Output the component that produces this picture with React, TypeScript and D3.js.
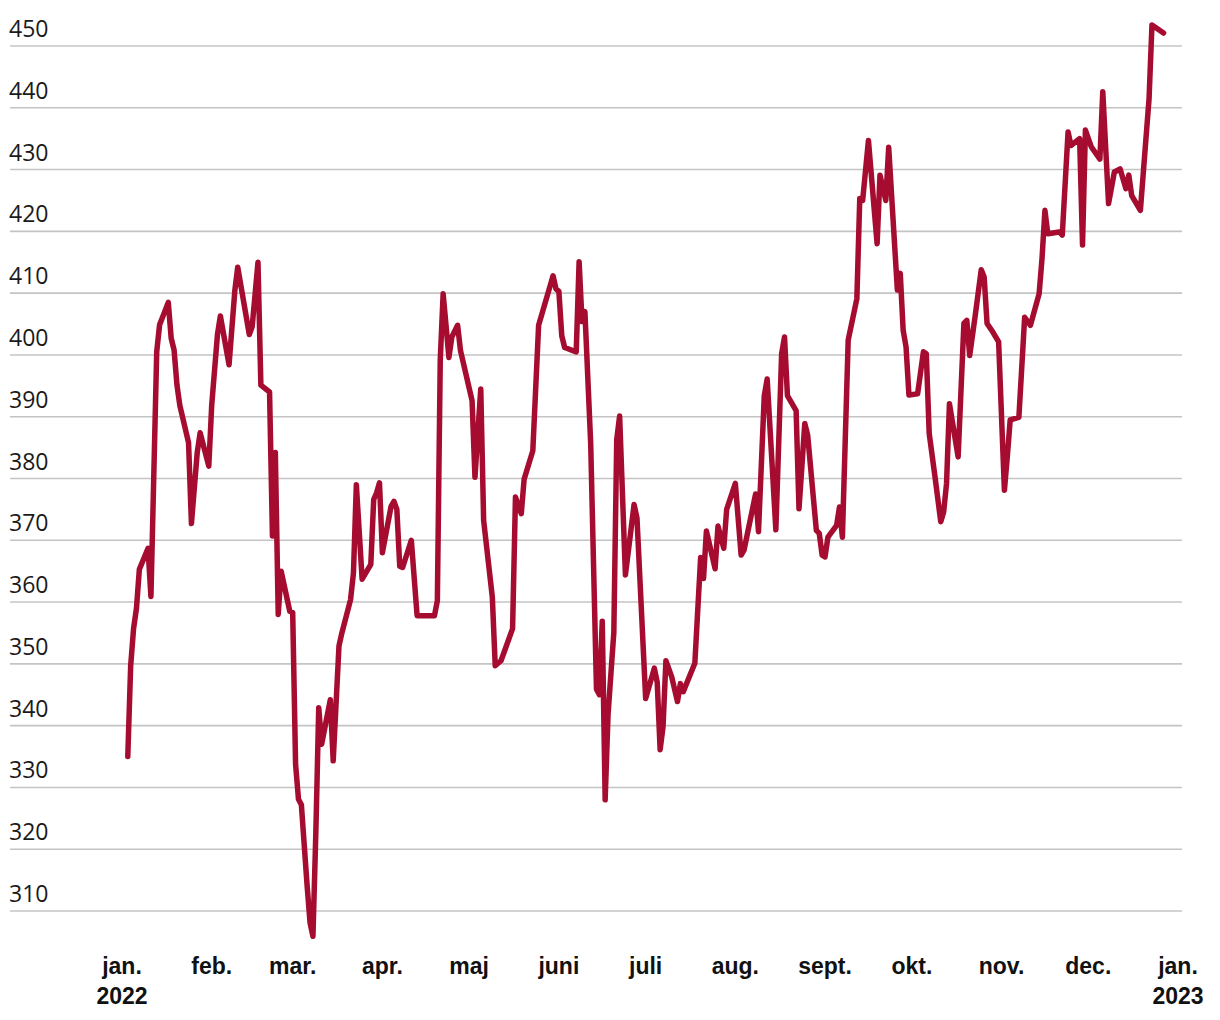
import React from "react";
import * as d3 from "d3";

const dates: string[] = [
  "2022-01-03","2022-01-04","2022-01-05","2022-01-06","2022-01-07","2022-01-10","2022-01-11","2022-01-13","2022-01-14","2022-01-17",
  "2022-01-18","2022-01-19","2022-01-20","2022-01-21","2022-01-24","2022-01-25","2022-01-27","2022-01-28","2022-01-31","2022-02-01",
  "2022-02-03","2022-02-04","2022-02-07","2022-02-09","2022-02-10","2022-02-14","2022-02-15","2022-02-17","2022-02-18","2022-02-21",
  "2022-02-22","2022-02-23","2022-02-24","2022-02-25","2022-02-28","2022-03-01","2022-03-02","2022-03-03","2022-03-04","2022-03-06",
  "2022-03-07","2022-03-08","2022-03-09","2022-03-10","2022-03-11","2022-03-14","2022-03-15","2022-03-17","2022-03-18","2022-03-21",
  "2022-03-22","2022-03-23","2022-03-25","2022-03-28","2022-03-29","2022-03-30","2022-03-31","2022-04-01","2022-04-04","2022-04-05",
  "2022-04-06","2022-04-07","2022-04-08","2022-04-11","2022-04-13","2022-04-19","2022-04-20","2022-04-21","2022-04-22","2022-04-24",
  "2022-04-25","2022-04-27","2022-04-28","2022-05-02","2022-05-03","2022-05-05","2022-05-06","2022-05-09","2022-05-10","2022-05-12",
  "2022-05-16","2022-05-17","2022-05-19","2022-05-20","2022-05-23","2022-05-25","2022-05-30","2022-05-31","2022-06-01","2022-06-02",
  "2022-06-03","2022-06-07","2022-06-08","2022-06-09","2022-06-10","2022-06-12","2022-06-14","2022-06-15","2022-06-16","2022-06-17",
  "2022-06-18","2022-06-20","2022-06-21","2022-06-22","2022-06-24","2022-06-27","2022-06-28","2022-07-01","2022-07-04","2022-07-05",
  "2022-07-06","2022-07-07","2022-07-08","2022-07-10","2022-07-12","2022-07-13","2022-07-14","2022-07-18","2022-07-20","2022-07-21",
  "2022-07-22","2022-07-25","2022-07-26","2022-07-28","2022-07-29","2022-08-01","2022-08-03","2022-08-04","2022-08-08","2022-08-09",
  "2022-08-11","2022-08-12","2022-08-15","2022-08-17","2022-08-18","2022-08-19","2022-08-22","2022-08-23","2022-08-25","2022-08-26",
  "2022-08-29","2022-08-30","2022-08-31","2022-09-01","2022-09-02","2022-09-05","2022-09-06","2022-09-07","2022-09-09","2022-09-12",
  "2022-09-13","2022-09-14","2022-09-16","2022-09-19","2022-09-20","2022-09-22","2022-09-23","2022-09-26","2022-09-27","2022-09-28",
  "2022-09-29","2022-09-30","2022-10-03","2022-10-05","2022-10-06","2022-10-07","2022-10-09","2022-10-11","2022-10-12","2022-10-13",
  "2022-10-14","2022-10-17","2022-10-19","2022-10-20","2022-10-21","2022-10-23","2022-10-25","2022-10-26","2022-10-27","2022-10-29",
  "2022-10-31","2022-11-02","2022-11-03","2022-11-04","2022-11-07","2022-11-09","2022-11-11","2022-11-14","2022-11-15","2022-11-16",
  "2022-11-17","2022-11-21","2022-11-22","2022-11-24","2022-11-25","2022-11-28","2022-11-29","2022-11-30","2022-12-02","2022-12-05",
  "2022-12-06","2022-12-08","2022-12-10","2022-12-12","2022-12-14","2022-12-15","2022-12-16","2022-12-19","2022-12-22","2022-12-23",
  "2022-12-27",
];

const prices: number[] = [
  335.0,349.7,355.7,359.0,365.3,368.7,360.9,400.5,404.9,408.5,
  402.7,400.8,395.1,391.8,385.8,372.7,384.2,387.4,382.0,391.8,
  403.3,406.3,398.4,410.4,414.2,403.3,404.6,415.0,395.1,394.0,
  370.7,384.2,358.0,365.0,358.5,358.3,333.7,328.1,327.2,314.0,
  308.1,305.9,322.7,342.9,337.0,344.2,334.3,352.9,355.0,360.4,
  364.7,379.0,363.7,366.1,376.6,377.7,379.3,368.0,375.5,376.3,
  375.0,365.8,365.6,370.0,357.8,357.8,360.2,399.1,409.9,399.6,
  402.9,404.8,400.7,392.6,380.2,394.5,373.2,360.8,349.7,350.5,
  355.7,377.0,374.3,379.9,384.5,404.8,412.8,410.7,410.3,403.1,
  401.2,400.5,415.1,405.4,407.0,385.7,345.9,345.0,356.9,328.0,
  341.8,355.1,386.3,390.1,364.4,375.8,373.6,344.4,349.3,347.0,
  336.1,339.8,350.5,347.9,343.9,346.8,345.5,350.1,367.2,363.8,
  371.5,365.4,372.3,368.7,375.0,379.2,367.6,368.4,377.5,371.4,
  393.4,396.1,371.7,400.2,402.9,393.4,391.0,375.1,388.9,387.0,
  371.6,371.1,367.6,367.3,370.5,372.4,375.4,370.5,402.4,409.1,
  425.3,425.0,434.7,418.0,429.1,425.0,433.6,410.5,413.2,404.0,
  401.3,393.5,393.7,400.5,400.2,387.3,380.3,373.0,374.6,379.2,
  392.1,383.5,405.1,405.6,399.9,406.7,413.8,412.6,405.1,403.7,
  402.1,378.1,383.5,389.5,389.9,406.1,404.8,409.9,415.6,423.4,
  419.6,419.9,419.4,436.1,433.9,435.0,417.8,436.4,433.7,431.7,
  442.6,424.5,429.6,430.1,426.9,429.1,425.8,423.4,441.5,453.4,
  452.1,
];

const yTicks: number[] = [310, 320, 330, 340, 350, 360, 370, 380, 390, 400, 410, 420, 430, 440, 450];
const monthLabels: string[] = ["jan.", "feb.", "mar.", "apr.", "maj", "juni", "juli", "aug.", "sept.", "okt.", "nov.", "dec.", "jan."];
const yearLabels: { month: number; label: string }[] = [
  { month: 0, label: "2022" },
  { month: 12, label: "2023" },
];

const W = 1220;
const H = 1020;
const LINE_COLOR = "#a50c30";
const GRID_COLOR = "#c4c4c4";

export default function App() {
  const parse = d3.timeParse("%Y-%m-%d");
  const data = dates.map((d, i) => ({ date: parse(d) as Date, value: prices[i] }));

  const x = d3
    .scaleTime()
    .domain([new Date(2022, 0, 1), new Date(2023, 0, 1)])
    .range([122, 1178]);
  const y = d3.scaleLinear().domain([310, 450]).range([911, 46]);

  const line = d3
    .line<{ date: Date; value: number }>()
    .x((d) => x(d.date))
    .y((d) => y(d.value));

  const monthDates = d3.range(13).map((m) => new Date(2022, m, 1));

  return (
    <svg
      width={W}
      height={H}
      style={{ position: "absolute", left: 0, top: 0, background: "#fff" }}
    >
      <g>
        {yTicks.map((t) => (
          <g key={t}>
            <line x1={10} x2={1182} y1={y(t)} y2={y(t)} stroke={GRID_COLOR} strokeWidth={1.6} />
            <text
              x={9}
              y={y(t) - 9}
              fontFamily="'Open Sans', 'Noto Sans', sans-serif"
              fontSize={23}
              fill="#1a1a1a"
            >
              {t}
            </text>
          </g>
        ))}
      </g>
      <path
        d={line(data) || ""}
        fill="none"
        stroke={LINE_COLOR}
        strokeWidth={5.5}
        strokeLinejoin="round"
        strokeLinecap="round"
      />
      <g fontFamily="'Liberation Sans', Arial, sans-serif" fontWeight="bold" fontSize={23} fill="#111">
        {monthDates.map((d, i) => (
          <text key={i} x={x(d)} y={974} textAnchor="middle">
            {monthLabels[i]}
          </text>
        ))}
        {yearLabels.map((yl) => (
          <text key={yl.label} x={x(monthDates[yl.month])} y={1004} textAnchor="middle">
            {yl.label}
          </text>
        ))}
      </g>
    </svg>
  );
}
